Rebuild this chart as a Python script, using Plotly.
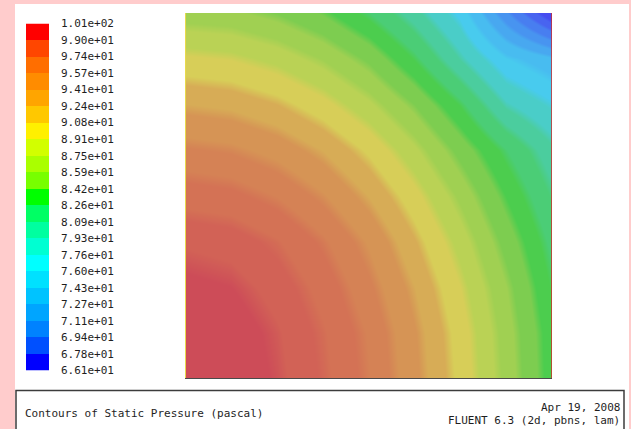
import plotly.graph_objects as go

# Contour level boundaries on the colour bar (Pa), listed top to bottom
LEVELS = [101.0, 99.0, 97.4, 95.7, 94.1, 92.4, 90.8, 89.1, 87.5, 85.9, 84.2,
          82.6, 80.9, 79.3, 77.6, 76.0, 74.3, 72.7, 71.1, 69.4, 67.8, 66.1]

# Sample positions across the square domain (normalised units)
X_POS = [0.0, 0.125, 0.25, 0.375, 0.5, 0.625, 0.75, 0.875, 1.0]
Y_POS = [0.0, 0.125, 0.25, 0.375, 0.5, 0.625, 0.75, 0.875, 1.0]

# Static pressure (Pa) at the sample points; one row per Y_POS, bottom to top
PRESSURE = [
    [100.6, 100.2, 99.1, 97.5, 95.5, 93.0, 90.2, 86.9, 83.3],
    [100.3, 100.0, 98.9, 97.3, 95.3, 92.8, 90.0, 86.7, 83.2],
    [99.6, 99.3, 98.3, 96.7, 94.6, 92.2, 89.4, 86.2, 82.7],
    [98.6, 98.3, 97.3, 95.7, 93.7, 91.2, 88.4, 85.2, 82.0],
    [96.6, 96.3, 95.4, 94.0, 92.1, 89.8, 87.0, 83.9, 81.0],
    [94.5, 94.2, 93.4, 92.1, 90.3, 88.0, 85.2, 82.4, 79.8],
    [92.2, 91.9, 91.1, 89.8, 88.0, 85.7, 82.8, 79.3, 77.6],
    [89.6, 89.3, 88.5, 87.2, 85.4, 82.8, 79.5, 76.3, 74.8],
    [86.6, 86.4, 85.6, 84.3, 82.4, 80.0, 77.0, 71.5, 66.1],
]

TITLE = "Contours of Static Pressure (pascal)"
DATE = "Apr 19, 2008"
SOLVER = "FLUENT 6.3 (2d, pbns, lam)"

# Band colours, top band (highest pressure) first
BAR_COLORS = [
    "#ff0000", "#ff4600", "#ff6e00", "#ff8c00", "#ffa500", "#ffc800", "#fff000",
    "#d2ff00", "#aaff00", "#78ff00", "#00ff00", "#00ff64", "#00ffa0", "#00ffd2",
    "#00ffff", "#00e1ff", "#00c3ff", "#00a5ff", "#0082ff", "#0050ff", "#0000ff",
]
FIELD_COLORS = [
    "rgb(205,76,88)", "rgb(210,98,86)", "rgb(212,114,85)", "rgb(213,130,85)",
    "rgb(214,148,85)", "rgb(215,172,86)", "rgb(215,206,88)", "rgb(186,210,85)",
    "rgb(160,208,82)", "rgb(125,205,80)", "rgb(76,205,78)", "rgb(75,205,118)",
    "rgb(75,205,158)", "rgb(74,205,200)", "rgb(72,203,238)", "rgb(72,188,240)",
    "rgb(72,168,240)", "rgb(72,148,240)", "rgb(72,126,240)", "rgb(72,100,240)",
    "rgb(70,76,240)",
]

FONT = "DejaVu Sans Mono"
TEXT_COLOR = "#1e1e1e"
W, H = 631, 429

bounds = LEVELS[::-1]          # ascending
lo, hi = bounds[0], bounds[-1]


def banded_scale(colors_top_first, soft):
    cols = colors_top_first[::-1]   # ascending order
    scale = [[0.0, cols[0]]]
    for k in range(1, len(cols)):
        t = (bounds[k] - lo) / (hi - lo)
        scale.append([t - soft, cols[k - 1]])
        scale.append([t + soft, cols[k]])
    scale.append([1.0, cols[-1]])
    return scale


fig = go.Figure()

# Pressure field
fig.add_trace(go.Heatmap(
    x=X_POS, y=Y_POS, z=PRESSURE,
    zmin=lo, zmax=hi, zsmooth="best",
    colorscale=banded_scale(FIELD_COLORS, 0.008),
    showscale=False, hoverinfo="skip",
    xaxis="x", yaxis="y",
))

# Colour bar: one cell per band, coloured by the band's mid value
mids = [(bounds[k] + bounds[k + 1]) / 2 for k in range(len(bounds) - 1)]
fig.add_trace(go.Heatmap(
    x=[0], y=list(range(len(mids))), z=[[m] for m in mids],
    zmin=lo, zmax=hi,
    colorscale=banded_scale(BAR_COLORS, 0.0),
    showscale=False, hoverinfo="skip",
    xaxis="x2", yaxis="y2",
))


def px_x(p):
    return p / W


def px_y(p):
    return 1 - p / H


hidden = dict(showgrid=False, zeroline=False, showticklabels=False,
              ticks="", showline=False, automargin=False)

fig.update_layout(
    width=W, height=H,
    margin=dict(l=0, r=0, t=0, b=0, autoexpand=False),
    paper_bgcolor="#ffcccc",
    plot_bgcolor="white",
    showlegend=False,
    xaxis=dict(domain=[px_x(185), px_x(552)], range=[0, 1], **hidden),
    yaxis=dict(domain=[px_y(379), px_y(13)], range=[0, 1], **hidden),
    xaxis2=dict(domain=[px_x(26), px_x(49)], range=[-0.5, 0.5], anchor="y2",
                **hidden),
    yaxis2=dict(
        domain=[px_y(370.5), px_y(23.5)], range=[-0.5, len(mids) - 0.5],
        anchor="x2", side="right", showgrid=False, zeroline=False,
        showline=False, ticks="", automargin=False,
        tickvals=[k - 0.5 for k in range(len(bounds))],
        ticktext=[f"{v:.2e}" for v in bounds],
        tickfont=dict(family=FONT, size=11, color=TEXT_COLOR),
        ticklabelstandoff=11,
    ),
    shapes=[
        # white page inside the pink frame
        dict(type="rect", xref="paper", yref="paper", layer="below",
             x0=px_x(15), x1=px_x(629), y0=-0.1, y1=px_y(4),
             fillcolor="white", line=dict(width=0)),
        # edges of the domain
        dict(type="line", xref="x", yref="y", x0=0, x1=0, y0=0, y1=1,
             line=dict(color="#e8da4c", width=2)),
        dict(type="line", xref="x", yref="y", x0=1, x1=1, y0=0, y1=1,
             line=dict(color="#d02828", width=1.5)),
        dict(type="line", xref="x", yref="y", x0=0, x1=1, y0=0, y1=0,
             line=dict(color="#4a4a4a", width=2)),
        # caption box
        dict(type="rect", xref="paper", yref="paper",
             x0=px_x(16), x1=px_x(624), y0=-0.1, y1=px_y(390.5),
             fillcolor="rgba(0,0,0,0)", line=dict(color="#3c3c3c", width=1.5)),
    ],
    annotations=[
        dict(text=TITLE, xref="paper", yref="paper", x=px_x(23), y=px_y(413),
             xanchor="left", yanchor="middle", showarrow=False,
             font=dict(family=FONT, size=11, color=TEXT_COLOR)),
        dict(text=DATE, xref="paper", yref="paper", x=px_x(622), y=px_y(407.5),
             xanchor="right", yanchor="middle", showarrow=False,
             font=dict(family=FONT, size=11, color=TEXT_COLOR)),
        dict(text=SOLVER, xref="paper", yref="paper", x=px_x(622), y=px_y(420),
             xanchor="right", yanchor="middle", showarrow=False,
             font=dict(family=FONT, size=11, color=TEXT_COLOR)),
    ],
)

fig.write_html("out.html")
